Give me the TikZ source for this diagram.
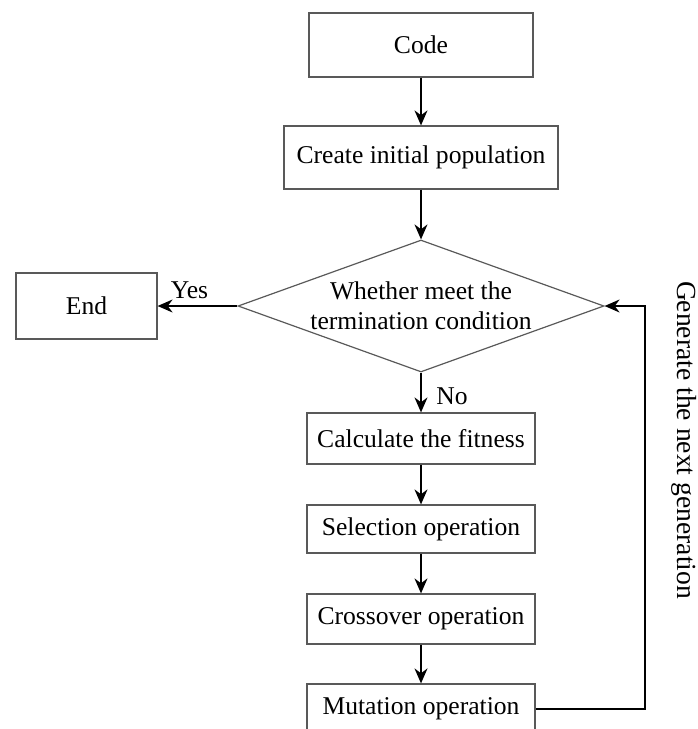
\documentclass[tikz,border=0pt]{standalone}
\usepackage{fontspec}
\setmainfont{Liberation Serif}
\usetikzlibrary{shapes.geometric,arrows.meta}

\begin{document}
\begin{tikzpicture}[
      x=0.5pt, y=-0.5pt,
      every node/.style={font=\fontsize{12.8}{15}\selectfont},
      block/.style={draw=black!65, line width=0.6pt, inner sep=0pt},
      decide/.style={diamond, draw=black!65, line width=0.6pt, inner sep=0pt, aspect=2.77, align=center},
      flow/.style={line width=0.8pt, -{Stealth[length=7.5pt,width=6.5pt]}}
    ]
    \useasboundingbox (0,0) rectangle (697,729);
    % Draw the steps.
    \node[block, minimum width=112pt, minimum height=32pt] (code) at (421,45) {Code};
    \node[block, minimum width=137pt, minimum height=31.5pt] (create) at (421,157.5) {Create initial population};
    \node[decide, minimum width=183pt, minimum height=66pt] (cond) at (421,306) {Whether meet the\\termination condition};
    \node[block, minimum width=70.5pt, minimum height=33pt] (endn) at (86.5,306) {End};
    \node[block, minimum width=114pt, minimum height=25.5pt] (fit) at (421,438.5) {Calculate the fitness};
    \node[block, minimum width=114pt, minimum height=24pt] (sel) at (421,529) {Selection operation};
    \node[block, minimum width=114pt, minimum height=25pt] (cross) at (421,619) {Crossover operation};
    \node[block, minimum width=114pt, minimum height=25pt] (mut) at (421,709) {Mutation operation};
    \coordinate (back) at (645,306);
    % Draw the transitions.
    \draw[flow] (code) -- (create);
    \draw[flow] (create) -- (cond);
    \draw[flow] (cond) -- node[right, pos=0.6, xshift=4pt] {No} (fit);
    \draw[flow] (cond) -- node[above, pos=0.6] {Yes} (endn);
    \draw[flow] (fit) -- (sel);
    \draw[flow] (sel) -- (cross);
    \draw[flow] (cross) -- (mut);
    \draw[flow] (mut.east) -| (back) -- (cond.east);
    \node[rotate=-90, font=\fontsize{13.8}{16}\selectfont] (gen) at (684,440) {Generate the next generation};
    \end{tikzpicture}
\end{document}
